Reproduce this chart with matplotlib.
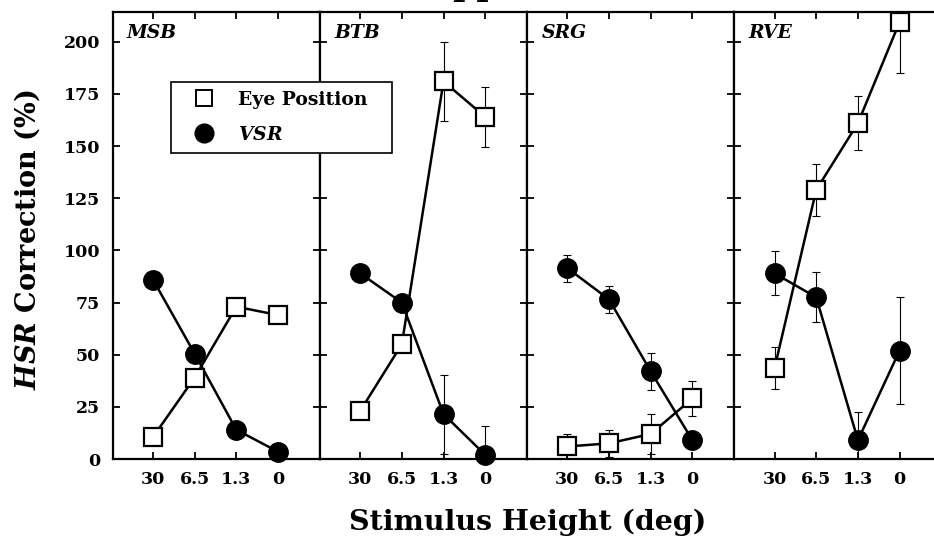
import matplotlib
matplotlib.use("Agg")
import matplotlib.pyplot as plt
from matplotlib.lines import Line2D
import numpy as np

plt.rcParams['font.family'] = ['DejaVu Serif']
plt.rcParams['font.weight'] = 'bold'
plt.rcParams['mathtext.fontset'] = 'custom'
plt.rcParams['mathtext.it'] = 'DejaVu Serif:italic:bold'
plt.rcParams['mathtext.rm'] = 'DejaVu Serif:bold'

# ---------------- data ----------------
heights = ["30", "6.5", "1.3", "0"]
subjects = ["MSB", "BTB", "SRG", "RVE"]

eye_msb = [10.5, 39, 73, 69]
eye_msb_err = [0, 0, 0, 0]
vsr_msb = [86, 50.5, 14, 3.5]
vsr_msb_err = [0, 0, 0, 0]

eye_btb = [23, 55, 181, 164]
eye_btb_err = [0, 0, 19, 14.5]
vsr_btb = [89, 75, 21.5, 2]
vsr_btb_err = [0, 0, 19, 14]

eye_srg = [6, 7.5, 12, 29]
eye_srg_err = [6, 6.5, 9.5, 8.5]
vsr_srg = [91.5, 76.5, 42, 9]
vsr_srg_err = [6.5, 6.5, 9, 4]

eye_rve = [43.5, 129, 161, 209.5]
eye_rve_err = [10, 12.5, 13, 24.5]
vsr_rve = [89, 77.5, 9, 52]
vsr_rve_err = [10.5, 12, 13.5, 25.5]

eye_all = [eye_msb, eye_btb, eye_srg, eye_rve]
eye_err_all = [eye_msb_err, eye_btb_err, eye_srg_err, eye_rve_err]
vsr_all = [vsr_msb, vsr_btb, vsr_srg, vsr_rve]
vsr_err_all = [vsr_msb_err, vsr_btb_err, vsr_srg_err, vsr_rve_err]

yticks = [0, 25, 50, 75, 100, 125, 150, 175, 200]

# ---------------- figure ----------------
W, H = 934, 542
fig = plt.figure(figsize=(W / 100, H / 100), dpi=100)

left_px = 112.5
panel_w = 207.2
top_px = 11.5
bot_px = 459
x = np.arange(len(heights))

for i in range(4):
    ax = fig.add_axes([(left_px + i * panel_w) / W, (H - bot_px) / H,
                       panel_w / W, (bot_px - top_px) / H])
    ax.set_xlim(-0.97, 4.0)
    ax.set_ylim(0, 214.5)
    for s in ax.spines.values():
        s.set_linewidth(1.6)
    ax.errorbar(x, vsr_all[i], yerr=vsr_err_all[i], fmt='none', ecolor='k',
                elinewidth=0.8, capsize=3, capthick=0.8, zorder=1)
    ax.errorbar(x, eye_all[i], yerr=eye_err_all[i], fmt='none', ecolor='k',
                elinewidth=0.8, capsize=3, capthick=0.8, zorder=1)
    ax.plot(x, vsr_all[i], color='k', lw=1.8, marker='o', ms=14,
            mfc='k', mec='k', zorder=3, clip_on=False)
    ax.plot(x, eye_all[i], color='k', lw=1.8, marker='s', ms=12.5,
            mfc='white', mec='k', mew=1.6, zorder=4, clip_on=False)
    ax.set_xticks(x)
    ax.set_xticklabels(heights, fontsize=12.5, fontweight='bold')
    ax.set_yticks(yticks)
    ax.tick_params(axis='both', direction='in', length=5, width=1.3,
                   top=True, right=True)
    ax.tick_params(axis='x', pad=9)
    if i == 0:
        ax.set_yticklabels([str(v) for v in yticks], fontsize=12.5,
                           fontweight='bold')
        ax.tick_params(axis='y', pad=9)
    else:
        ax.set_yticklabels([])
    ax.text(0.07, (bot_px - 38.5) / (bot_px - top_px), subjects[i],
            transform=ax.transAxes, fontsize=13.5, fontstyle='italic',
            fontweight='bold', va='baseline', ha='left')

# y-axis label and x-axis label
fig.text(27 / W, 1 - 240 / H, r"$\mathit{HSR}$ Correction (%)", rotation=90,
         fontsize=19.5, fontweight='bold', ha='center', va='center')
fig.text(528 / W, 1 - 530 / H, "Stimulus Height (deg)", fontsize=20.5,
         fontweight='bold', ha='center', va='baseline')

# title (only its lowest part falls inside the picture, as in the reference)
fig.text(425 / W, 1 + 4.5 / H, "Upper", fontsize=24, fontweight='bold',
         ha='left', va='baseline')

# legend
handles = [
    Line2D([], [], ls='none', marker='s', ms=12, mfc='white', mec='k', mew=1.4),
    Line2D([], [], ls='none', marker='o', ms=13.5, mfc='k', mec='k'),
]
labels = ["Eye Position", r"$\mathit{VSR}$"]
leg = fig.legend(handles, labels, loc='upper left', mode='expand',
                 bbox_to_anchor=(171 / W, 1 - 154 / H, 221 / W, 72 / H),
                 borderaxespad=0,
                 frameon=True, fancybox=False, shadow=False, framealpha=1,
                 edgecolor='k', prop={'family': 'DejaVu Serif',
                                      'weight': 'bold', 'size': 13.5},
                 handletextpad=0.53, labelspacing=0.9, borderpad=0.48,
                 handlelength=2.56)
leg.get_frame().set_linewidth(1.2)

fig.savefig("out.png", dpi=100)
